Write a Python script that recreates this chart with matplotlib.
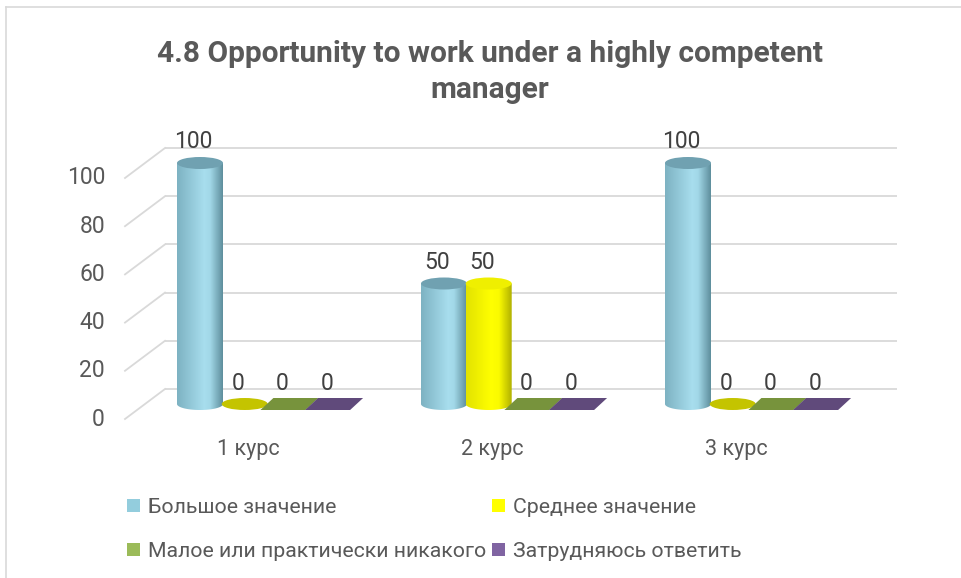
import numpy as np
import matplotlib
matplotlib.use("Agg")
import matplotlib.pyplot as plt
from matplotlib.patches import Ellipse, PathPatch, Polygon, Patch
from matplotlib.path import Path
from matplotlib.colors import LinearSegmentedColormap
from matplotlib.lines import Line2D

plt.rcParams['font.family'] = ['Roboto', 'DejaVu Sans']

# ---- data ----
title = "4.8 Opportunity to work under a highly competent\nmanager"
categories = ["1 курс", "2 курс", "3 курс"]
series = ["Большое значение", "Среднее значение",
          "Малое или практически никакого", "Затрудняюсь ответить"]
values = {
    "Большое значение": [100, 50, 100],
    "Среднее значение": [0, 50, 0],
    "Малое или практически никакого": [0, 0, 0],
    "Затрудняюсь ответить": [0, 0, 0],
}
yticks = [0, 20, 40, 60, 80, 100]

# ---- styles ----
legend_colors = ["#93CDDD", "#FFFF00", "#9BBB59", "#8064A2"]
body_cmaps = [
    LinearSegmentedColormap.from_list("b", [(0, "#7DB2C2"), (0.6, "#A8DEEE"), (0.72, "#A2D8E8"), (1, "#5E8E9C")]),
    LinearSegmentedColormap.from_list("y", [(0, "#E2E200"), (0.55, "#FFFF00"), (0.72, "#FAFA00"), (1, "#B0B000")]),
    None, None,
]
top_colors = ["#70A1B1", "#EFEF00", "#77933C", "#604A7B"]
flat_colors = ["#70A1B1", "#C4C400", "#77933C", "#604A7B"]
grid_c = "#D9D9D9"
txt_c = "#595959"

W, H = 962, 578
fig = plt.figure(figsize=(W / 100, H / 100), dpi=100)
ax = fig.add_axes([0, 0, 1, 1])
ax.axis("off")

# mapping: 1 category = 244 px, 1 value unit = 2.41 px
px_x, px_y = 244.0, 2.41
x_org, y_org = 248.0, 404.0
xlim = (-x_org / px_x, (W - x_org) / px_x)
ylim = ((y_org - H) / px_y, y_org / px_y)

depth_dx = 20 / px_x        # half-depth shift (x)
depth_dy = 15 / px_y        # half-depth shift (y)
wall_x = (145 - x_org) / px_x
right_x = (897 - x_org) / px_x

bar_w = 46 / px_x
bar_step = 44.7 / px_x
bar_first = (200 - x_org) / px_x
ell_h = 12 / px_y
base = 0.0

# gridlines: back wall + left side wall diagonal
for v in yticks:
    yb = v + depth_dy
    yf = v - depth_dy
    ax.plot([wall_x + depth_dx, right_x], [yb, yb], color=grid_c, lw=1.3, zorder=1,
            solid_capstyle="butt")
    ax.plot([wall_x - depth_dx, wall_x + depth_dx], [yf, yb], color=grid_c, lw=1.3, zorder=1)
    ax.text(wall_x - depth_dx - 20 / px_x, yf, str(v), ha="right", va="center",
            fontsize=16.5, color=txt_c)

grad = np.linspace(0, 1, 256).reshape(1, -1)
z = 3
for i, cat in enumerate(categories):
    for j, s in enumerate(series):
        v = values[s][i]
        xc = i + bar_first + j * bar_step
        if v > 0:
            x0, x1 = xc - bar_w / 2, xc + bar_w / 2
            yt = base + v
            t = np.linspace(np.pi, 2 * np.pi, 60)
            verts = [(x0, yt)] + list(zip(xc + bar_w / 2 * np.cos(t), base + ell_h / 2 * np.sin(t)))
            verts += [(x1, yt), (x0, yt)]
            codes = [Path.MOVETO] + [Path.LINETO] * (len(verts) - 2) + [Path.CLOSEPOLY]
            clip = PathPatch(Path(verts, codes), facecolor="none", edgecolor="none")
            ax.add_patch(clip)
            im = ax.imshow(grad, cmap=body_cmaps[j], extent=(x0, x1, base - ell_h / 2, yt),
                           aspect="auto", zorder=z, interpolation="bilinear")
            im.set_clip_path(clip)
            ax.add_patch(Ellipse((xc, yt), bar_w, ell_h, facecolor=top_colors[j],
                                 edgecolor="none", zorder=z + 0.1))
        else:
            yt = base
            if j == 1:
                ax.add_patch(Ellipse((xc, base), bar_w, ell_h, facecolor=flat_colors[j],
                                     edgecolor="none", zorder=z))
            else:
                a, b = 29 / px_x, 16 / px_x
                pts = [(xc - a, base - ell_h / 2), (xc + b, base - ell_h / 2),
                       (xc + a, base + ell_h / 2), (xc - b, base + ell_h / 2)]
                ax.add_patch(Polygon(pts, closed=True, facecolor=flat_colors[j],
                                     edgecolor="none", zorder=z))
        ax.annotate(str(v), (xc, yt), xytext=(-7, 21), textcoords="offset pixels",
                    ha="center", va="center", fontsize=16.5, color="#404040", zorder=10)
        z += 1
    ax.text(i, -46 / px_y, cat, ha="center", va="center", fontsize=15.5, color=txt_c)

ax.set_xlim(*xlim)
ax.set_ylim(*ylim)

# chart border (left and top visible)
fig.add_artist(Line2D([5.5 / W, 5.5 / W], [0, 1 - 7 / H], color=grid_c, lw=1.2))
fig.add_artist(Line2D([5.5 / W, 1], [1 - 7 / H, 1 - 7 / H], color=grid_c, lw=1.2))

fig.text(490 / W, 1 - 72 / H, title, ha="center", va="center", fontsize=21.5,
         fontweight="bold", color=txt_c, linespacing=1.4)

handles = [Patch(facecolor=c, edgecolor="none", label=s) for c, s in zip(legend_colors, series)]
order = [0, 2, 1, 3]
fig.legend([handles[k] for k in order], [series[k] for k in order],
           loc="upper left", bbox_to_anchor=(127 / W, 1 - 498 / H), ncol=2,
           frameon=False, fontsize=15.3, handlelength=0.62, handleheight=0.62,
           handletextpad=0.35, columnspacing=0.3, labelspacing=1.18, borderpad=0,
           borderaxespad=0, labelcolor=txt_c)

fig.savefig("out.png", dpi=100)
